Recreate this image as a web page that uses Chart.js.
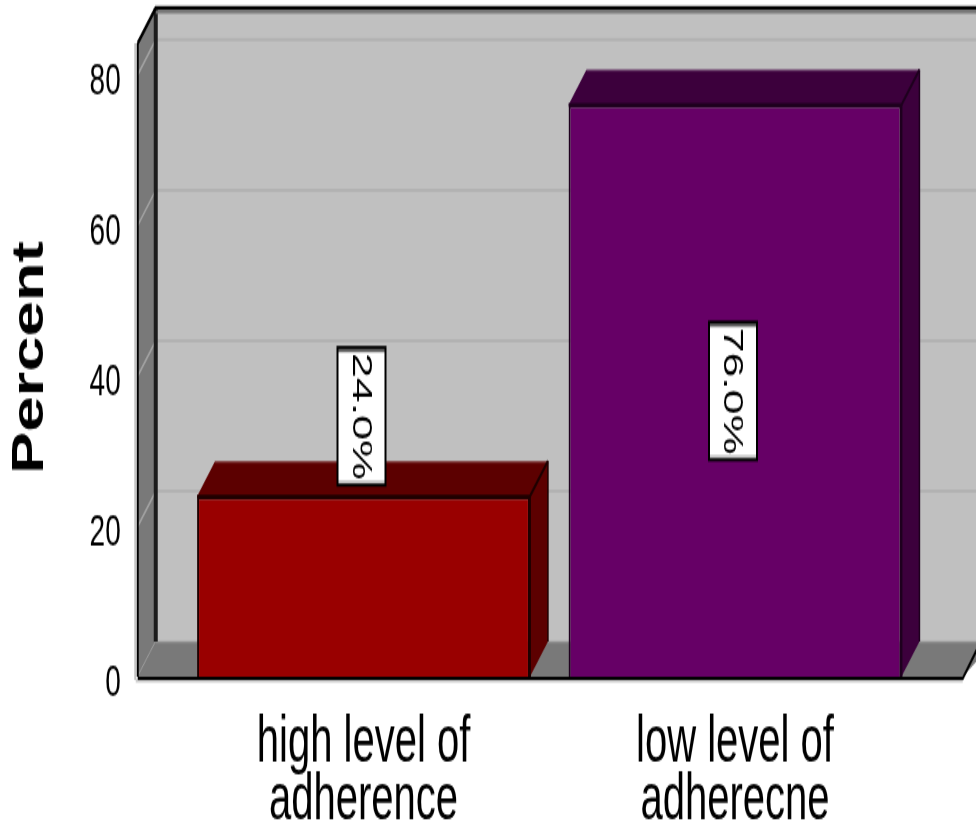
<!DOCTYPE html>
<html>
<head>
<meta charset="utf-8">
<script src="https://cdn.jsdelivr.net/npm/chart.js@4"></script>
<style>
  html, body { margin: 0; padding: 0; background: #fff; overflow: hidden; }
  /* the original picture is stretched vertically, so the canvas bitmap is shown taller than it is */
  #graficoBarras { display: block; width: 976px; height: 832px; }
</style>
</head>
<body>
<canvas id="graficoBarras" width="976" height="520" style="width:976px;height:832px"></canvas>
<script>
const categories = [['high level of', 'adherence'], ['low level of', 'adherecne']];
const percentValues = [24.0, 76.0];
const yTickValues = [0, 20, 40, 60, 80];
const yAxisTitle = 'Percent';

const frontColors = ['#990000', '#660066'];
const darkColors = ['#5c0000', '#3c003c'];
const edgeColors = ['#1e0000', '#1e001e'];

// depth of the 3D box, in canvas px (before the vertical stretch)
const DX = 18, DY = -22;
const WALL_TOP = 84.2;

function linha(c, pts, cor, larg) {
    c.beginPath();
    c.moveTo(pts[0][0], pts[0][1]);
    for (let i = 1; i < pts.length; i++) c.lineTo(pts[i][0], pts[i][1]);
    c.strokeStyle = cor;
    c.lineWidth = larg;
    c.stroke();
}

function poligono(c, pts, cor) {
    c.beginPath();
    c.moveTo(pts[0][0], pts[0][1]);
    for (let i = 1; i < pts.length; i++) c.lineTo(pts[i][0], pts[i][1]);
    c.closePath();
    c.fillStyle = cor;
    c.fill();
}

const caixa3d = {
    id: 'caixa3d',
    beforeDatasetsDraw(chart) {
        const c = chart.ctx, ys = chart.scales.y, area = chart.chartArea;
        const W = chart.width;
        const xF = area.left - 40, xB = xF + DX;
        const xR = area.right + 42;
        const yT = ys.getPixelForValue(WALL_TOP), y0 = ys.getPixelForValue(0);
        c.save();
        // back wall
        c.fillStyle = '#c0c0c0';
        c.fillRect(xB, yT + DY, W - xB, y0 - yT);
        ys.ticks.forEach(function(t) {
            const yv = ys.getPixelForValue(t.value);
            if (t.value > 0) linha(c, [[xB, yv + DY], [W, yv + DY]], '#b2b2b2', 2);
        });
        // left wall
        poligono(c, [[xF, yT], [xB, yT + DY], [xB, y0 + DY], [xF, y0]], '#797979');
        ys.ticks.forEach(function(t) {
            const yv = ys.getPixelForValue(t.value);
            linha(c, [[xF, yv], [xB, yv + DY]], '#a4a4a4', 1.5);
        });
        // floor
        poligono(c, [[xF, y0], [xB, y0 + DY], [W + DX, y0 + DY], [xR, y0]], '#797979');
        linha(c, [[xB, y0 + DY + 0.5], [W, y0 + DY + 0.5]], '#8c8c8c', 1.5);
        // edges
        linha(c, [[xB, yT + DY], [xB, y0 + DY]], '#1c1c1c', 4);
        linha(c, [[xB, yT + DY + 2.5], [W, yT + DY + 2.5]], '#7a7a7a', 2);
        linha(c, [[xF, yT], [xB, yT + DY], [W, yT + DY]], '#000', 2.5);
        linha(c, [[xF - 2.5, yT], [xF - 2.5, y0 + 2]], '#c4c4c4', 2);
        linha(c, [[xF, yT], [xF, y0]], '#000', 2);
        linha(c, [[xF - 2, y0 + 2.5], [xR, y0 + 2.5]], '#c8c8c8', 2);
        linha(c, [[xF, y0 + 1], [xR, y0 + 1], [xR + DX, y0 + DY]], '#000', 2);
        c.restore();
    },
    afterDatasetsDraw(chart) {
        const c = chart.ctx, meta = chart.getDatasetMeta(0);
        c.save();
        meta.data.forEach(function(bar, i) {
            const p = bar.getProps(['x', 'y', 'base', 'width'], true);
            const xL = p.x - p.width / 2, xR = p.x + p.width / 2;
            // top face and side face
            poligono(c, [[xL, p.y], [xL + DX, p.y + DY], [xR + DX, p.y + DY], [xR, p.y]], darkColors[i]);
            poligono(c, [[xR, p.y], [xR + DX, p.y + DY], [xR + DX, p.base + DY], [xR, p.base]], darkColors[i]);
            linha(c, [[xL + DX, p.y + DY + 0.5], [xR + DX, p.y + DY + 0.5]], 'rgba(255,255,255,0.15)', 1.5);
            linha(c, [[xL, p.y], [xR, p.y], [xR + DX, p.y + DY]], edgeColors[i], 2);
            linha(c, [[xR, p.y], [xR, p.base]], edgeColors[i], 2);
            linha(c, [[xR + DX, p.y + DY], [xR + DX, p.base + DY]], edgeColors[i], 1.5);
        });
        // value labels
        meta.data.forEach(function(bar, i) {
            const p = bar.getProps(['x', 'y', 'base'], true);
            const bw = 48, bh = 86;
            const cx = p.x - 2;
            const cy = (p.base - p.y > 1.5 * bh) ? (p.y + p.base) / 2 : p.y - 7 - bh / 2;
            c.fillStyle = '#fff';
            c.fillRect(cx - bw / 2, cy - bh / 2, bw, bh);
            c.fillStyle = '#6a6a6a';
            c.fillRect(cx - bw / 2, cy - bh / 2, bw, 3);
            c.fillStyle = '#c8c8c8';
            c.fillRect(cx - bw / 2, cy + bh / 2 - 3, bw, 3);
            c.strokeStyle = '#000';
            c.lineWidth = 2;
            c.strokeRect(cx - bw / 2, cy - bh / 2, bw, bh);
            c.save();
            c.translate(cx, cy);
            c.rotate(Math.PI / 2);
            c.fillStyle = '#000';
            c.font = '28px "Liberation Sans", Arial, sans-serif';
            c.textAlign = 'center';
            c.textBaseline = 'middle';
            c.fillText(percentValues[i].toFixed(1) + '%', 0, 1);
            c.restore();
        });
        // axis title
        c.translate(31, 223.5);
        c.rotate(-Math.PI / 2);
        c.scale(0.88, 1);
        c.fillStyle = '#000';
        c.font = 'bold 45px "Liberation Sans", Arial, sans-serif';
        c.textAlign = 'center';
        c.textBaseline = 'middle';
        c.fillText(yAxisTitle, 0, 0);
        c.restore();
    }
};

document.addEventListener("DOMContentLoaded", function() {
    const ctx = document.getElementById('graficoBarras').getContext('2d');
    const graficoBarras = new Chart(ctx, {
        type: 'bar',
        data: {
            labels: categories,
            datasets: [{
                label: yAxisTitle,
                data: percentValues,
                backgroundColor: frontColors,
                borderColor: edgeColors,
                borderWidth: 2,
                barPercentage: 0.896,
                categoryPercentage: 1
            }]
        },
        options: {
            responsive: false,
            animation: false,
            devicePixelRatio: 1,
            layout: {
                padding: { top: 46.8, right: 55.25, left: 0, bottom: 0 }
            },
            plugins: {
                legend: { display: false },
                tooltip: { enabled: false }
            },
            scales: {
                x: {
                    grid: { display: false, drawTicks: false },
                    border: { display: false },
                    ticks: {
                        color: '#000',
                        padding: 23,
                        maxRotation: 0,
                        autoSkip: false,
                        font: { family: '"Liberation Sans", Arial, sans-serif', size: 40, lineHeight: 0.92 }
                    },
                    afterFit: function(scale) {
                        scale.height = 96.9;
                        scale.paddingLeft = 0;
                        scale.paddingRight = 0;
                    }
                },
                y: {
                    min: 0,
                    max: 80,
                    grid: { display: false, drawTicks: false },
                    border: { display: false },
                    afterBuildTicks: function(scale) {
                        scale.ticks = yTickValues.map(function(v) { return { value: v }; });
                    },
                    ticks: {
                        color: '#000',
                        padding: 57,
                        labelOffset: 4,
                        font: { family: '"Liberation Sans", Arial, sans-serif', size: 28 }
                    },
                    afterFit: function(scale) {
                        scale.width = 177.75;
                        scale.paddingTop = 0;
                        scale.paddingBottom = 0;
                    }
                }
            }
        },
        plugins: [caixa3d]
    });
});
</script>
</body>
</html>
